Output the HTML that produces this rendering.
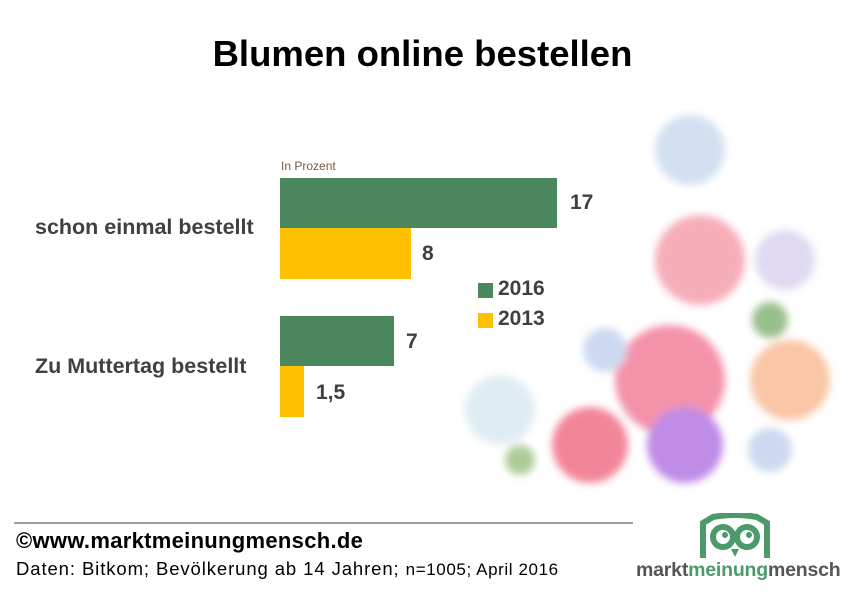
<!DOCTYPE html><html><head><style>
body{margin:0;width:855px;height:596px;background:#fff;position:relative;overflow:hidden;font-family:"Liberation Sans",sans-serif}
.a{position:absolute;white-space:nowrap}
.b{font-weight:bold;color:#404040}
</style></head><body>
<div class="a" style="left:0;width:845px;top:33px;text-align:center;font-size:36.5px;font-weight:bold;color:#000">Blumen online bestellen</div>
<div class="a" style="left:281px;top:159px;font-size:12px;color:#7a5a40">In Prozent</div>
<div class="a" style="left:280px;top:178px;width:277px;height:50px;background:#4b875c"></div>
<div class="a" style="left:280px;top:228px;width:131px;height:51px;background:#ffc000"></div>
<div class="a" style="left:280px;top:316px;width:114px;height:50px;background:#4b875c"></div>
<div class="a" style="left:280px;top:366px;width:24px;height:51px;background:#ffc000"></div>
<div class="a b" style="left:35px;top:215px;font-size:21.5px">schon einmal bestellt</div>
<div class="a b" style="left:35px;top:354px;font-size:21.5px">Zu Muttertag bestellt</div>
<div class="a b" style="left:570px;top:191px;font-size:21px">17</div>
<div class="a b" style="left:422px;top:242px;font-size:21px">8</div>
<div class="a b" style="left:406px;top:330px;font-size:21px">7</div>
<div class="a b" style="left:316px;top:381px;font-size:21px">1,5</div>
<div class="a" style="left:478px;top:283px;width:15px;height:15px;background:#4b875c"></div>
<div class="a" style="left:478px;top:313px;width:15px;height:15px;background:#ffc000"></div>
<div class="a b" style="left:498px;top:277px;font-size:21px">2016</div>
<div class="a b" style="left:498px;top:307px;font-size:21px">2013</div>
<svg class="a" style="left:440px;top:110px" width="415" height="390">
<defs><filter id="f"><feGaussianBlur stdDeviation="4"/></filter></defs>
<g filter="url(#f)" opacity="0.8">
<circle cx="250" cy="40" r="35" fill="#c8d8ee"/>
<circle cx="260" cy="150" r="45" fill="#f49aa8"/>
<circle cx="345" cy="150" r="30" fill="#d8d0ee"/>
<circle cx="230" cy="270" r="55" fill="#f27896"/>
<circle cx="350" cy="270" r="40" fill="#f8b890"/>
<circle cx="245" cy="335" r="38" fill="#b070e0"/>
<circle cx="150" cy="335" r="38" fill="#f06880"/>
<circle cx="330" cy="210" r="18" fill="#7fb070"/>
<circle cx="60" cy="300" r="35" fill="#d8e8f0"/>
<circle cx="165" cy="240" r="22" fill="#c0d0ee"/>
<circle cx="330" cy="340" r="22" fill="#c0d0ee"/>
<circle cx="80" cy="350" r="15" fill="#9ac080"/>
</g></svg>
<div class="a" style="left:14px;top:522px;width:619px;height:2px;background:#a0a0a0"></div>
<div class="a" style="left:16px;top:528px;font-size:22px;font-weight:bold;color:#000;letter-spacing:0.3px">©www.marktmeinungmensch.de</div>
<div class="a" style="left:16px;top:558px;font-size:18.5px;color:#000;letter-spacing:0.9px">Daten: Bitkom; Bevölkerung ab 14 Jahren; <span style="font-size:17px;letter-spacing:0.6px">n=1005; April 2016</span></div>
<svg class="a" style="left:695px;top:513px" width="80" height="50"><g fill="none" stroke="#4b9a6a" stroke-width="6"><path d="M8 45 V10 L18 4 Q40 0 62 4 L72 10 V45"/><circle cx="28" cy="24" r="10"/><circle cx="52" cy="24" r="10"/></g><circle cx="30" cy="22" r="3" fill="#4b9a6a"/><circle cx="54" cy="22" r="3" fill="#4b9a6a"/><path d="M36 36 L40 44 L44 36Z" fill="#4b9a6a"/></svg>
<div class="a" style="left:636px;top:559px;font-size:19.5px;font-weight:bold;letter-spacing:-0.2px;color:#555">markt<span style="color:#4b9a6a">meinung</span>mensch</div>
</body></html>
